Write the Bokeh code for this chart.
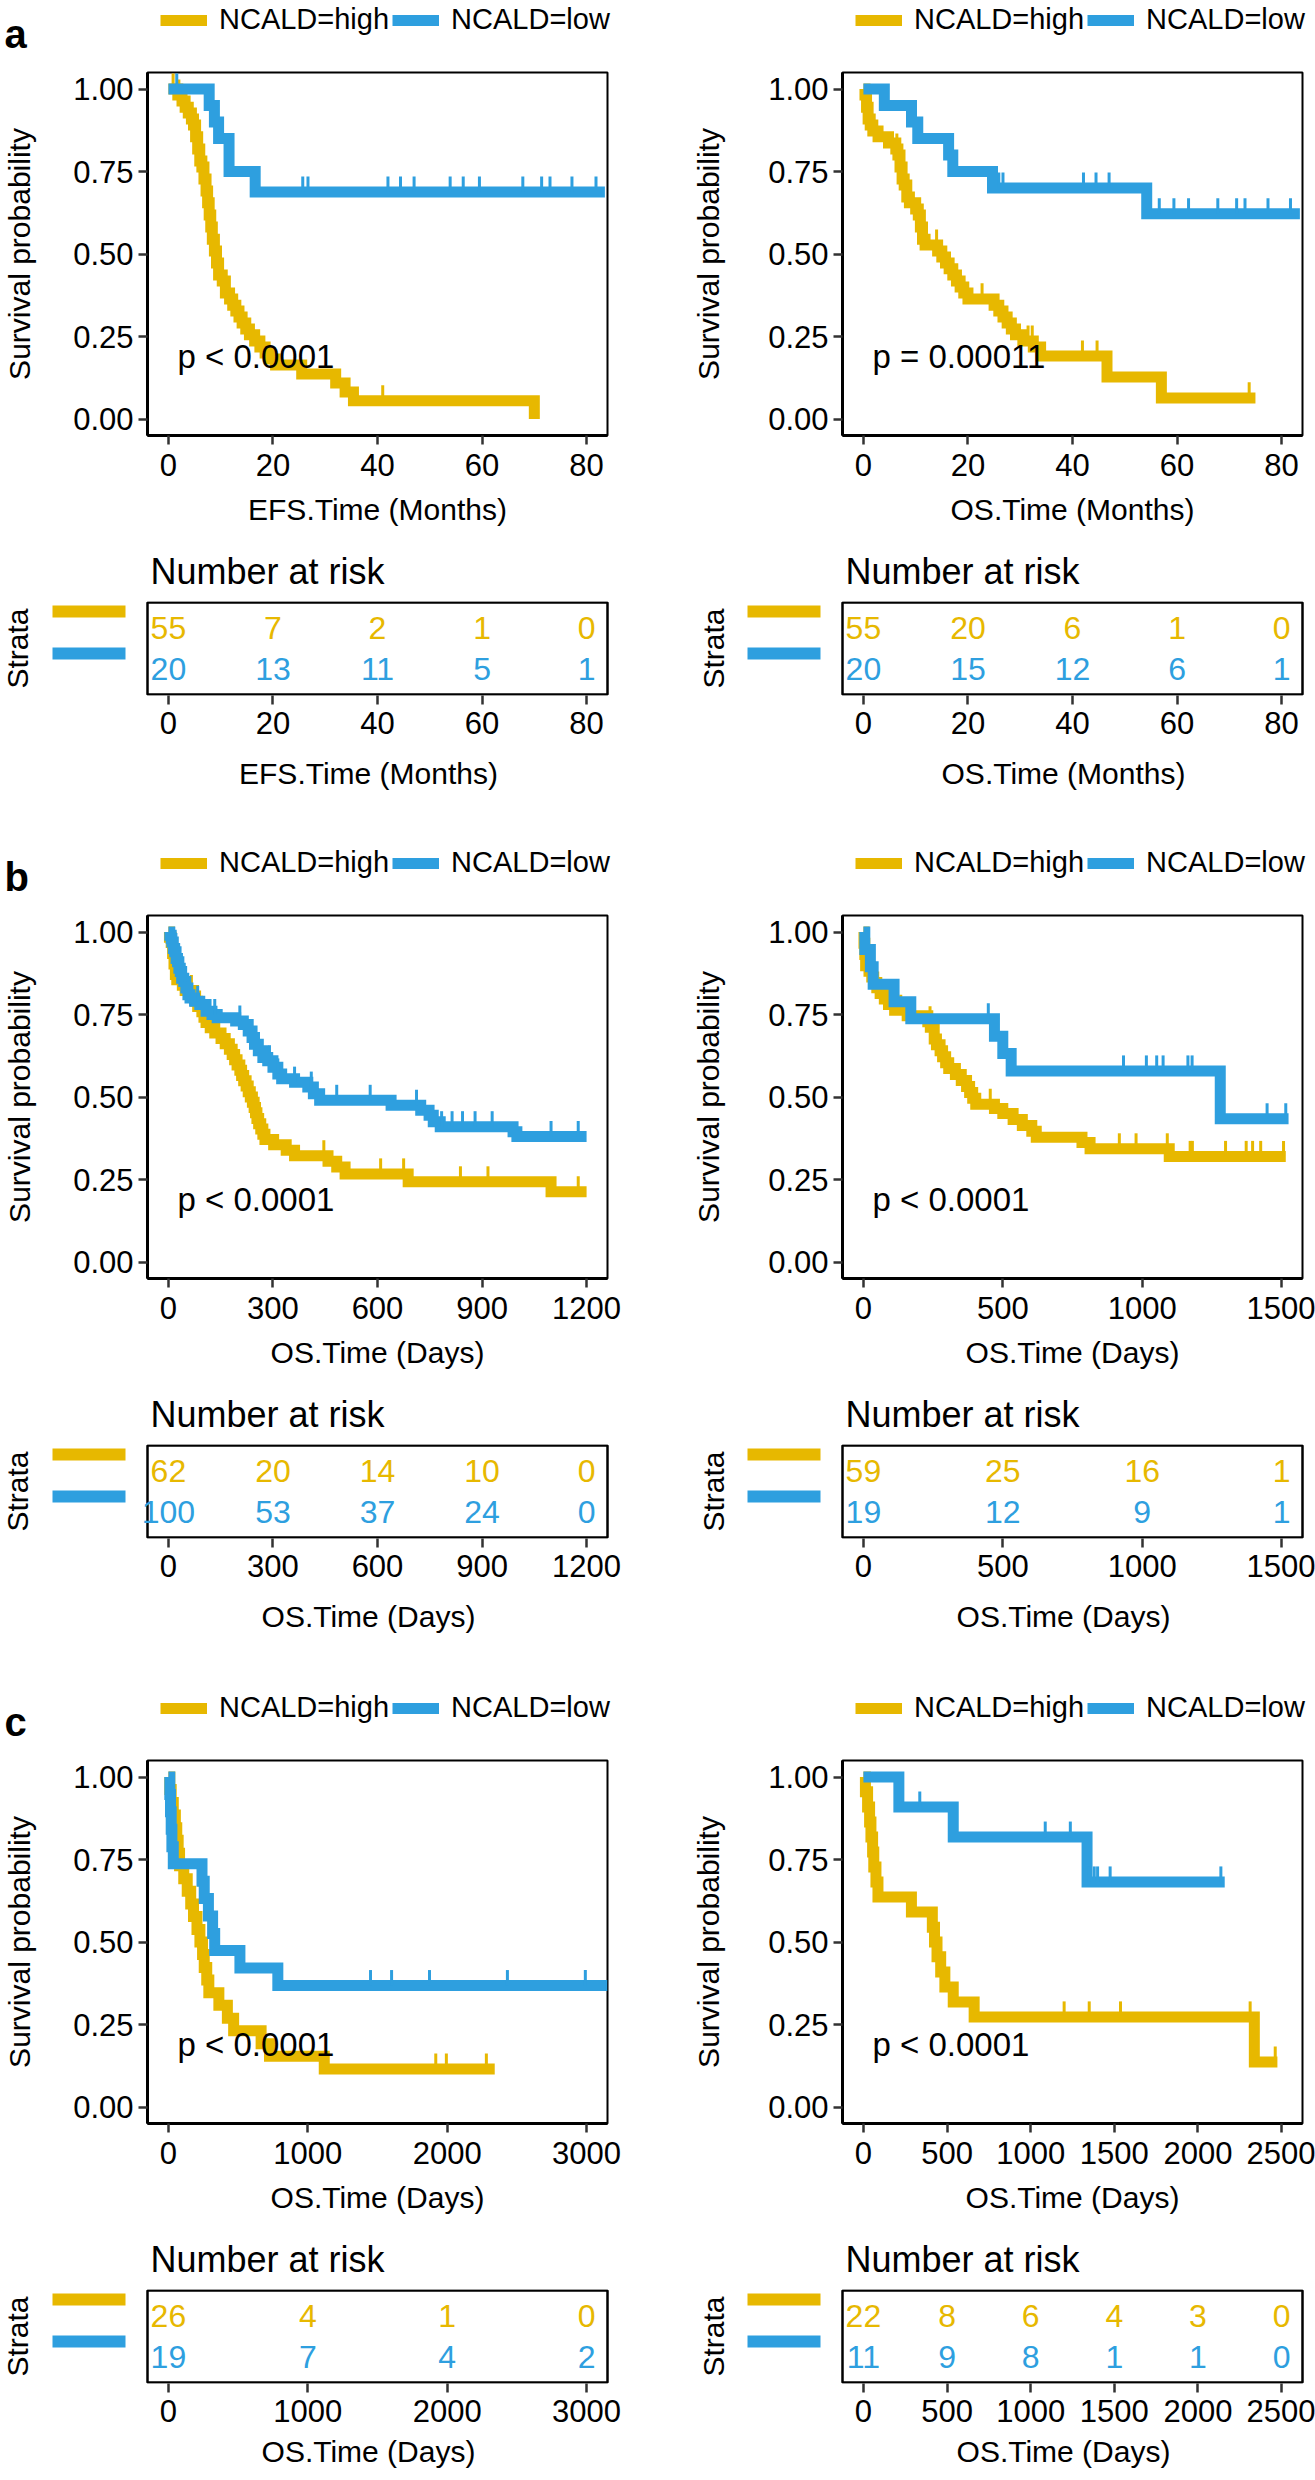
import math
from bokeh.plotting import figure
from bokeh.models import Label, Legend, LegendItem, NumeralTickFormatter, FixedTicker, Range1d
from bokeh.layouts import row, column
from bokeh.core.properties import value
from bokeh.embed import file_html
from bokeh.resources import INLINE

HIGH_COLOR = "#E7B800"
LOW_COLOR = "#2E9FDF"
FONT = "Liberation Sans"

# ---------------- data: (time, survival) steps ----------------
# panel a, left: EFS (months)
a1_high = [(0, 1.0), (1.8, 0.982), (2.6, 0.964), (3.2, 0.945), (3.8, 0.927), (4.4, 0.909), (4.8, 0.891),
           (5.2, 0.855), (5.6, 0.818), (6.0, 0.782), (6.4, 0.764), (6.8, 0.727), (7.2, 0.691), (7.5, 0.655),
           (7.8, 0.618), (8.1, 0.582), (8.4, 0.545), (8.8, 0.509), (9.2, 0.473), (9.6, 0.436), (10.3, 0.418),
           (10.9, 0.382), (11.7, 0.364), (12.3, 0.345), (12.9, 0.327), (13.5, 0.309), (14.1, 0.291),
           (14.8, 0.273), (15.5, 0.255), (16.5, 0.236), (17.5, 0.218), (18.5, 0.200), (19.5, 0.182),
           (20.5, 0.164), (25.5, 0.136), (32.0, 0.109), (33.8, 0.082), (35.4, 0.055), (70.0, 0.0)]
a1_high_cens = [0.9, 2.0, 41.0]
a1_low = [(0, 1.0), (7.8, 0.95), (8.8, 0.90), (9.6, 0.85), (11.6, 0.75), (16.6, 0.688), (83.5, 0.688)]
a1_low_cens = [1.6, 25.7, 26.7, 42.0, 44.4, 47.0, 53.9, 56.4, 59.5, 67.8, 71.4, 73.0, 77.2, 81.8]
a1_ticks = [0, 20, 40, 60, 80]
a1_risk_high = [55, 7, 2, 1, 0]
a1_risk_low = [20, 13, 11, 5, 1]

# panel a, right: OS (months)
a2_high = [(0, 1.0), (0.3, 0.982), (0.6, 0.945), (0.9, 0.909), (1.3, 0.891), (1.8, 0.873), (2.8, 0.855),
           (4.8, 0.836), (6.2, 0.818), (6.6, 0.800), (7.0, 0.764), (7.4, 0.727), (7.8, 0.709), (8.3, 0.673),
           (8.8, 0.655), (10.0, 0.636), (10.5, 0.618), (10.9, 0.582), (11.3, 0.545), (11.8, 0.527),
           (14.2, 0.509), (15.0, 0.491), (15.7, 0.473), (16.4, 0.455), (17.1, 0.436), (17.8, 0.418),
           (18.5, 0.400), (19.2, 0.382), (20.0, 0.364), (25.0, 0.345), (25.9, 0.327), (26.7, 0.309),
           (27.5, 0.291), (28.3, 0.273), (29.1, 0.255), (30.5, 0.236), (32.5, 0.218), (33.9, 0.191),
           (46.6, 0.127), (57.0, 0.064), (75.0, 0.064)]
a2_high_cens = [6.4, 14.0, 22.7, 31.5, 32.3, 41.9, 44.7, 73.8]
a2_low = [(0, 1.0), (4.0, 0.95), (9.2, 0.90), (10.4, 0.85), (16.3, 0.80), (17.1, 0.75), (24.7, 0.70),
          (54.2, 0.622), (83.5, 0.622)]
a2_low_cens = [25.9, 26.7, 42.1, 44.5, 47.0, 56.6, 59.4, 62.2, 67.8, 71.4, 73.0, 77.4, 81.7]
a2_ticks = [0, 20, 40, 60, 80]
a2_risk_high = [55, 20, 6, 1, 0]
a2_risk_low = [20, 15, 12, 6, 1]

# panel b, left: OS (days)
b1_high = [(0, 1.0), (3, 0.984), (8, 0.968), (12, 0.935), (16, 0.903), (20, 0.871), (24, 0.855), (40, 0.839),
           (48, 0.823), (72, 0.806), (78, 0.790), (84, 0.774), (96, 0.758), (102, 0.742), (108, 0.726),
           (120, 0.710), (133, 0.694), (151, 0.677), (163, 0.661), (175, 0.645), (183, 0.629), (190, 0.613),
           (197, 0.597), (205, 0.581), (210, 0.565), (216, 0.549), (223, 0.533), (229, 0.516), (235, 0.500),
           (241, 0.484), (246, 0.468), (250, 0.452), (254, 0.435), (259, 0.419), (265, 0.403), (271, 0.387),
           (277, 0.371), (302, 0.355), (338, 0.339), (362, 0.322), (458, 0.305), (483, 0.288), (507, 0.267),
           (688, 0.243), (1098, 0.213), (1200, 0.213)]
b1_high_cens = [52, 66, 110, 446, 609, 675, 838, 917, 1176]
b1_low = [(0, 1.0), (4, 0.99), (8, 0.98), (10, 0.97), (14, 0.95), (18, 0.94), (22, 0.92), (26, 0.91),
          (30, 0.89), (34, 0.88), (38, 0.86), (44, 0.85), (50, 0.83), (56, 0.81), (62, 0.80), (75, 0.79),
          (90, 0.78), (108, 0.76), (125, 0.75), (140, 0.74), (193, 0.73), (215, 0.72), (229, 0.70),
          (240, 0.68), (247, 0.66), (258, 0.64), (271, 0.62), (285, 0.61), (300, 0.59), (314, 0.57),
          (325, 0.555), (362, 0.545), (400, 0.53), (416, 0.51), (434, 0.49), (639, 0.475), (724, 0.46),
          (748, 0.445), (760, 0.425), (780, 0.41), (989, 0.395), (1000, 0.38), (1200, 0.38)]
b1_low_cens = [48, 84, 133, 205, 290, 314, 362, 410, 483, 579, 712, 784, 814, 844, 880, 929, 1098, 1176]
b1_ticks = [0, 300, 600, 900, 1200]
b1_risk_high = [62, 20, 14, 10, 0]
b1_risk_low = [100, 53, 37, 24, 0]

# panel b, right: OS (days)
b2_high = [(0, 1.0), (2, 0.966), (5, 0.932), (8, 0.898), (20, 0.881), (30, 0.864), (37, 0.847), (48, 0.831),
           (60, 0.814), (75, 0.797), (90, 0.780), (112, 0.763), (157, 0.746), (231, 0.728), (240, 0.711),
           (254, 0.676), (262, 0.658), (275, 0.640), (284, 0.622), (295, 0.604), (306, 0.586), (330, 0.568),
           (351, 0.550), (370, 0.532), (381, 0.514), (392, 0.496), (403, 0.478), (470, 0.465), (500, 0.450),
           (537, 0.432), (570, 0.414), (604, 0.396), (620, 0.378), (784, 0.362), (813, 0.343), (1097, 0.320),
           (1515, 0.320)]
b2_high_cens = [134, 239, 455, 918, 978, 1090, 1172, 1180, 1299, 1373, 1396, 1425, 1507]
b2_low = [(0, 1.0), (5, 0.947), (25, 0.895), (35, 0.842), (110, 0.789), (170, 0.737), (470, 0.684),
          (500, 0.632), (530, 0.579), (1280, 0.434), (1525, 0.434)]
b2_low_cens = [448, 933, 1015, 1052, 1075, 1164, 1179, 1448, 1515]
b2_ticks = [0, 500, 1000, 1500]
b2_risk_high = [59, 25, 16, 1]
b2_risk_low = [19, 12, 9, 1]

# panel c, left: OS (days)
c1_high = [(0, 1.0), (10, 0.962), (20, 0.923), (35, 0.885), (50, 0.846), (60, 0.808), (70, 0.769),
           (80, 0.731), (110, 0.692), (135, 0.654), (160, 0.615), (180, 0.577), (205, 0.538), (226, 0.500),
           (245, 0.462), (257, 0.423), (275, 0.385), (290, 0.346), (362, 0.308), (423, 0.269), (468, 0.231),
           (665, 0.192), (725, 0.154), (1118, 0.115), (2341, 0.115)]
c1_high_cens = [1918, 1994, 2281]
c1_low = [(0, 1.0), (10, 0.947), (15, 0.895), (20, 0.842), (25, 0.789), (35, 0.737), (241, 0.684),
          (257, 0.632), (287, 0.579), (317, 0.526), (332, 0.474), (513, 0.421), (785, 0.368), (3150, 0.368)]
c1_low_cens = [1450, 1601, 1873, 2432, 2991]
c1_ticks = [0, 1000, 2000, 3000]
c1_risk_high = [26, 4, 1, 0]
c1_risk_low = [19, 7, 4, 2]

# panel c, right: OS (days)
c2_high = [(0, 1.0), (12, 0.955), (25, 0.909), (37, 0.864), (45, 0.818), (55, 0.773), (62, 0.727),
           (75, 0.682), (87, 0.636), (287, 0.591), (412, 0.545), (425, 0.500), (440, 0.455), (462, 0.409),
           (487, 0.364), (537, 0.318), (662, 0.273), (2337, 0.136), (2475, 0.136)]
c2_high_cens = [1200, 1350, 1537, 2312, 2462]
c2_low = [(0, 1.0), (212, 0.909), (537, 0.818), (1337, 0.682), (2160, 0.682)]
c2_low_cens = [337, 1087, 1237, 1350, 1380, 1400, 1475, 2137]
c2_ticks = [0, 500, 1000, 1500, 2000, 2500]
c2_risk_high = [22, 8, 6, 4, 3, 0]
c2_risk_low = [11, 9, 8, 1, 1, 0]

PANELS = [
    [dict(letter="a", xlabel="EFS.Time (Months)", xr=(-4, 84), ticks=a1_ticks, high=a1_high, high_c=a1_high_cens,
          low=a1_low, low_c=a1_low_cens, pval="p < 0.0001", rh=a1_risk_high, rl=a1_risk_low),
     dict(letter=None, xlabel="OS.Time (Months)", xr=(-4, 84), ticks=a2_ticks, high=a2_high, high_c=a2_high_cens,
          low=a2_low, low_c=a2_low_cens, pval="p = 0.00011", rh=a2_risk_high, rl=a2_risk_low)],
    [dict(letter="b", xlabel="OS.Time (Days)", xr=(-60, 1260), ticks=b1_ticks, high=b1_high, high_c=b1_high_cens,
          low=b1_low, low_c=b1_low_cens, pval="p < 0.0001", rh=b1_risk_high, rl=b1_risk_low),
     dict(letter=None, xlabel="OS.Time (Days)", xr=(-75, 1575), ticks=b2_ticks, high=b2_high, high_c=b2_high_cens,
          low=b2_low, low_c=b2_low_cens, pval="p < 0.0001", rh=b2_risk_high, rl=b2_risk_low)],
    [dict(letter="c", xlabel="OS.Time (Days)", xr=(-150, 3150), ticks=c1_ticks, high=c1_high, high_c=c1_high_cens,
          low=c1_low, low_c=c1_low_cens, pval="p < 0.0001", rh=c1_risk_high, rl=c1_risk_low),
     dict(letter=None, xlabel="OS.Time (Days)", xr=(-125, 2625), ticks=c2_ticks, high=c2_high, high_c=c2_high_cens,
          low=c2_low, low_c=c2_low_cens, pval="p < 0.0001", rh=c2_risk_high, rl=c2_risk_low)],
]

# ---------------- layout constants (pixels) ----------------
FW = 460                 # frame width of plots (and of the table box)
FH = 363                 # survival frame height
HEAD = 70                # header strip (legends + panel letter)
SURV_BOTTOM = 103
TBL_TOP = 63
TBL_H = 94               # table frame; the box sits 1 px inside it
TY0, TY1 = 0.377, 2.623  # table y range; box spans 0.4 .. 2.6
TBL_BOTTOM = [148, 150, 95]
EXT = 20                 # table frame extends left of the box so wide numbers are not clipped
LB = [147, 162]          # space left of the frames
RB = [73, 13]            # space right of the frames
COLW = [LB[0] + FW + RB[0], LB[1] + FW + RB[1]]
TOTAL_W = COLW[0] + COLW[1]
YLAB_STANDOFF = [34, 40]
STRATA_X = [17, 33]
TICK_UP = 0.047


def surv_at(curve, t):
    s = curve[0][1]
    for tt, ss in curve:
        if tt <= t:
            s = ss
        else:
            break
    return s


def style_xaxis(ax, ticks, label, label_standoff, title_standoff):
    ax.ticker = FixedTicker(ticks=ticks)
    ax.axis_line_width = 3
    ax.axis_line_color = "black"
    ax.major_tick_line_width = 2.5
    ax.major_tick_line_color = "#333333"
    ax.major_tick_out = 9
    ax.major_tick_in = 0
    ax.minor_tick_line_color = None
    ax.major_label_text_font = FONT
    ax.major_label_text_font_size = "31px"
    ax.major_label_text_color = "black"
    ax.major_label_standoff = label_standoff
    ax.axis_label = label
    ax.axis_label_text_font = FONT
    ax.axis_label_text_font_size = "30px"
    ax.axis_label_text_font_style = "normal"
    ax.axis_label_text_color = "black"
    ax.axis_label_standoff = title_standoff


def make_header(pair):
    h = figure(frame_width=TOTAL_W, frame_height=HEAD, x_range=Range1d(0, TOTAL_W), y_range=Range1d(0, HEAD),
               x_axis_type=None, y_axis_type=None, output_backend="svg", toolbar_location=None)
    h.xgrid.visible = False
    h.ygrid.visible = False
    h.outline_line_color = None
    h.min_border = 0
    for c, pn in enumerate(pair):
        x0 = (0 if c == 0 else COLW[0]) + LB[c] + 13
        # legend keys (lines kept below the visible range, only their legend glyphs show)
        rh = h.line(x=[0, 1], y=[-HEAD, -HEAD], line_color=HIGH_COLOR, line_width=11)
        rl = h.line(x=[0, 1], y=[-HEAD, -HEAD], line_color=LOW_COLOR, line_width=11)
        legend = Legend(items=[LegendItem(label="NCALD=high", renderers=[rh]),
                               LegendItem(label="NCALD=low", renderers=[rl])],
                        orientation="horizontal", location=(x0, 34),
                        glyph_width=47, glyph_height=20, label_standoff=12, spacing=3,
                        padding=0, margin=0, border_line_color=None, background_fill_alpha=0,
                        label_text_font=FONT, label_text_font_size="29px", label_text_color="black",
                        label_height=20)
        h.add_layout(legend)
        if pn["letter"]:
            h.add_layout(Label(x=4, x_units="screen", y=37, y_units="screen",
                               text=pn["letter"], text_font=FONT, text_font_size="40px", text_font_style="bold",
                               text_align="left", text_baseline="alphabetic", text_color="black"))
    return h


def make_surv(pn, col):
    p = figure(frame_width=FW, frame_height=FH, min_border_left=LB[col], min_border_right=RB[col],
               min_border_top=2, min_border_bottom=SURV_BOTTOM,
               x_range=Range1d(*pn["xr"]), y_range=Range1d(-0.05, 1.05),
               output_backend="svg", toolbar_location=None)
    p.xgrid.visible = False
    p.ygrid.visible = False
    p.outline_line_color = "black"
    p.outline_line_width = 2

    style_xaxis(p.xaxis[0], pn["ticks"], pn["xlabel"], 9, 14)
    ya = p.yaxis[0]
    ya.ticker = FixedTicker(ticks=[0, 0.25, 0.5, 0.75, 1.0])
    ya.formatter = NumeralTickFormatter(format="0.00")
    ya.axis_line_width = 3
    ya.major_tick_line_width = 2.5
    ya.major_tick_line_color = "#333333"
    ya.major_tick_out = 9
    ya.major_tick_in = 0
    ya.minor_tick_line_color = None
    ya.major_label_text_font = FONT
    ya.major_label_text_font_size = "31px"
    ya.major_label_text_color = "black"
    ya.major_label_standoff = 5
    ya.axis_label = "Survival probability"
    ya.axis_label_text_font = FONT
    ya.axis_label_text_font_size = "30px"
    ya.axis_label_text_font_style = "normal"
    ya.axis_label_text_color = "black"
    ya.axis_label_standoff = YLAB_STANDOFF[col]

    for key, ckey, color in (("high", "high_c", HIGH_COLOR), ("low", "low_c", LOW_COLOR)):
        curve = pn[key]
        xs = [t for t, s in curve]
        ys = [s for t, s in curve]
        p.step(x=xs, y=ys, mode="after", line_color=color, line_width=11, line_join="miter")
        cs = pn[ckey]
        cy = [surv_at(curve, t) for t in cs]
        p.segment(x0=cs, y0=cy, x1=cs, y1=[v + TICK_UP for v in cy], line_color=color, line_width=3)

    p.add_layout(Label(x=30, x_units="screen", y=0.19, y_units="data", text=pn["pval"],
                       text_font=FONT, text_font_size="33px", text_align="left", text_baseline="middle",
                       text_color="black"))
    return p


def make_strata(col, r):
    w = LB[col] - EXT
    s = figure(frame_width=w, frame_height=TBL_H, min_border_left=0, min_border_right=0,
               min_border_top=TBL_TOP, min_border_bottom=TBL_BOTTOM[r],
               x_range=Range1d(0, w), y_range=Range1d(0, TBL_H),
               x_axis_type=None, y_axis_type=None, output_backend="svg", toolbar_location=None)
    s.xgrid.visible = False
    s.ygrid.visible = False
    s.outline_line_color = None
    s.add_layout(Label(x=STRATA_X[col], x_units="screen", y=TBL_H / 2, y_units="screen",
                       angle=math.pi / 2, text="Strata", text_font=FONT, text_font_size="30px",
                       text_align="center", text_baseline="middle", text_color="black"))
    for off, color in ((10, HIGH_COLOR), (52, LOW_COLOR)):
        yc = TBL_H - off
        s.quad(left=[LB[col] - 95], right=[LB[col] - 22], bottom=[yc - 6], top=[yc + 6],
               fill_color=color, line_color=None)
    return s


def make_table(pn, col, r):
    last = (r == 2)
    xr0, xr1 = pn["xr"]
    k = FW / (xr1 - xr0)                  # pixels per time unit, as in the plot above
    t = figure(frame_width=EXT + FW + 2, frame_height=TBL_H, min_border_left=0, min_border_right=RB[col] - 2,
               min_border_top=TBL_TOP, min_border_bottom=TBL_BOTTOM[r],
               x_range=Range1d(xr0 - EXT / k, xr1 + 2 / k), y_range=Range1d(TY0, TY1),
               output_backend="svg", toolbar_location=None)
    t.xgrid.visible = False
    t.ygrid.visible = False
    t.outline_line_color = None
    t.yaxis.visible = False
    style_xaxis(t.xaxis[0], pn["ticks"], pn["xlabel"], 7, 10 if last else 20)
    t.xaxis[0].axis_line_color = None

    t.title.text = "Number at risk"
    t.title.text_font = FONT
    t.title.text_font_size = "36px"
    t.title.text_font_style = "normal"
    t.title.text_color = "black"
    t.title.align = "left"
    t.title.offset = EXT + 3
    t.title.standoff = 20

    # the table box
    t.quad(left=[xr0], right=[xr1], bottom=[0.4], top=[2.6], fill_color=None,
           line_color="black", line_width=2.5)

    n = len(pn["ticks"])
    t.text(x=pn["ticks"], y=[2] * n, text=[str(v) for v in pn["rh"]], text_color=HIGH_COLOR,
           text_align="center", text_baseline="middle", text_font=value(FONT), text_font_size="32px")
    t.text(x=pn["ticks"], y=[1] * n, text=[str(v) for v in pn["rl"]], text_color=LOW_COLOR,
           text_align="center", text_baseline="middle", text_font=value(FONT), text_font_size="32px")
    return t


children = []
for r, pair in enumerate(PANELS):
    children.append(make_header(pair))
    children.append(row(make_surv(pair[0], 0), make_surv(pair[1], 1)))
    children.append(row(make_strata(0, r), make_table(pair[0], 0, r),
                        make_strata(1, r), make_table(pair[1], 1, r)))
layout = column(*children)

open("out.html", "w").write(file_html(layout, INLINE, title="NCALD survival"))
